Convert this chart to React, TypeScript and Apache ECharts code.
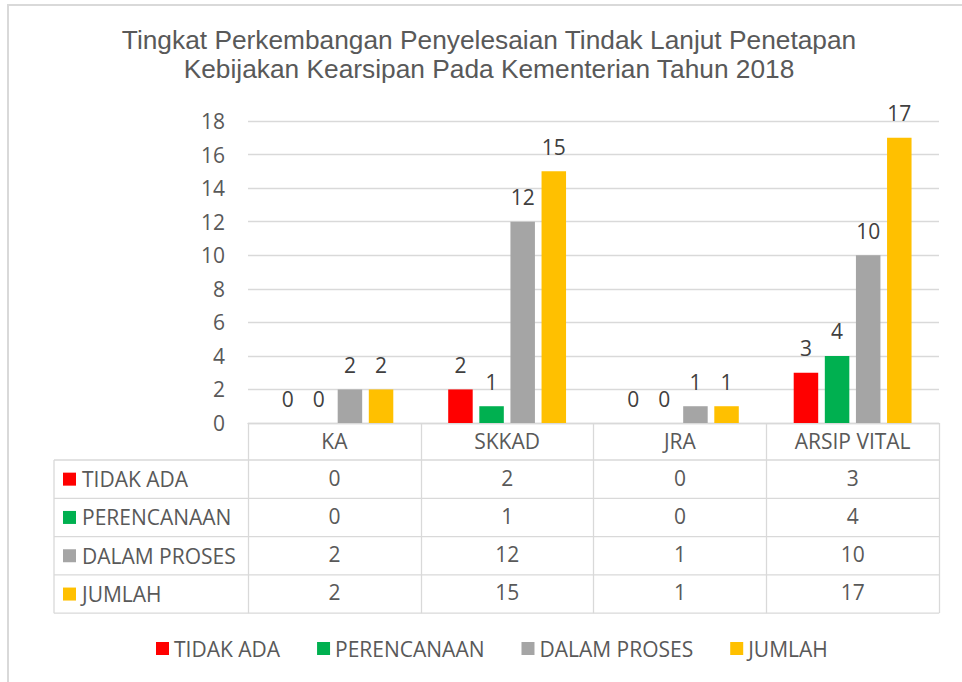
import React, { useEffect, useRef } from 'react';
import * as echarts from 'echarts';

// ---- data ----
const titleLines = [
  'Tingkat Perkembangan Penyelesaian Tindak Lanjut Penetapan',
  'Kebijakan Kearsipan Pada Kementerian Tahun 2018',
];
const categories = ['KA', 'SKKAD', 'JRA', 'ARSIP VITAL'];
const seriesNames = ['TIDAK ADA', 'PERENCANAAN', 'DALAM PROSES', 'JUMLAH'];
const tidakAda = [0, 2, 0, 3];
const perencanaan = [0, 1, 0, 4];
const dalamProses = [2, 12, 1, 10];
const jumlah = [2, 15, 1, 17];
const yMin = 0;
const yMax = 18;
const yInterval = 2;

// ---- styles / layout ----
const seriesColors = ['#FF0000', '#00B050', '#A5A5A5', '#FFC000'];
const W = 962;
const H = 682;
const gridLeft = 248;
const gridRight = 23;
const gridTop = 121;
const plotBottom = 423;
const headerH = 37;
const rowH = 38.3;
const tableLeft = 54;
const tableRight = W - gridRight;
const lineColor = '#D9D9D9';
const textColor = '#595959';
const labelColor = '#404040';
const font = 'Open Sans';
const fs = 21;
const labelMargin = 7;

export default function App() {
  const ref = useRef<HTMLDivElement>(null);

  useEffect(() => {
    document.body.style.margin = '0';
    if (!ref.current) return;
    const chart = echarts.init(ref.current, undefined, { renderer: 'svg' });
    const seriesData = [tidakAda, perencanaan, dalamProses, jumlah];

    const tableRows = seriesData.length;
    const tableBottom = plotBottom + headerH + tableRows * rowH;

    const graphic: any[] = [
      {
        type: 'rect',
        shape: { x: 8, y: 5, width: 1000, height: 1000 },
        style: { fill: 'none', stroke: lineColor, lineWidth: 2 },
        silent: true,
      },
      {
        type: 'line',
        shape: { x1: tableLeft, y1: plotBottom + headerH, x2: tableLeft, y2: tableBottom },
        style: { stroke: lineColor, lineWidth: 1.3 },
        silent: true,
      },
    ];
    for (let r = 0; r <= tableRows; r++) {
      const y = plotBottom + headerH + r * rowH;
      graphic.push({
        type: 'line',
        shape: { x1: tableLeft, y1: y, x2: tableRight, y2: y },
        style: { stroke: lineColor, lineWidth: 1.3 },
        silent: true,
      });
    }
    seriesNames.forEach((name, i) => {
      const cy = plotBottom + headerH + i * rowH + rowH / 2;
      graphic.push({
        type: 'rect',
        shape: { x: 63, y: cy - 6.5, width: 13, height: 13 },
        style: { fill: seriesColors[i] },
        silent: true,
      });
      graphic.push({
        type: 'text',
        x: 82,
        y: cy,
        style: {
          text: name,
          fill: textColor,
          font: `${fs}px "${font}"`,
          textAlign: 'left',
          textVerticalAlign: 'middle',
        },
        silent: true,
      });
    });

    const rowAxes = seriesData.map((vals, i) => ({
      type: 'category',
      data: categories,
      gridIndex: 0,
      position: 'bottom',
      offset: headerH + i * rowH,
      axisLine: { show: false },
      axisTick: { show: false },
      splitLine: { show: false },
      axisLabel: {
        interval: 0,
        margin: labelMargin,
        fontFamily: font,
        fontSize: fs,
        color: textColor,
        formatter: (_v: string, idx: number) => String(vals[idx]),
      },
    }));

    chart.setOption({
      animation: false,
      title: {
        text: titleLines.join('\n'),
        left: 489,
        top: 25,
        padding: 0,
        textAlign: 'center',
        textStyle: {
          fontFamily: 'Liberation Sans',
          fontSize: 26.3,
          fontWeight: 'normal',
          color: textColor,
          lineHeight: 29.5,
        },
      },
      legend: {
        data: seriesNames,
        bottom: 18,
        left: 151,
        icon: 'rect',
        itemWidth: 13,
        itemHeight: 13,
        itemGap: 37,
        textStyle: { fontFamily: font, fontSize: fs, color: textColor },
      },
      grid: {
        left: gridLeft,
        right: gridRight,
        top: gridTop,
        bottom: H - plotBottom,
        containLabel: false,
      },
      xAxis: [
        {
          type: 'category',
          data: categories,
          position: 'bottom',
          axisLine: { show: true, lineStyle: { color: lineColor, width: 1.3 } },
          axisTick: {
            show: true,
            length: headerH + tableRows * rowH,
            lineStyle: { color: lineColor, width: 1.3 },
          },
          axisLabel: {
            interval: 0,
            margin: labelMargin,
            fontFamily: font,
            fontSize: fs,
            color: textColor,
          },
        },
        ...rowAxes,
      ],
      yAxis: {
        type: 'value',
        min: yMin,
        max: yMax,
        interval: yInterval,
        axisLine: { show: false },
        axisTick: { show: false },
        splitLine: { lineStyle: { color: lineColor, width: 1.3 } },
        axisLabel: { margin: 23, fontFamily: font, fontSize: fs, color: textColor },
      },
      series: seriesData.map((vals, i) => ({
        name: seriesNames[i],
        type: 'bar',
        xAxisIndex: 0,
        data: vals,
        barWidth: 24.5,
        barGap: '27%',
        itemStyle: { color: seriesColors[i] },
        label: {
          show: true,
          position: 'top',
          distance: 14,
          fontFamily: font,
          fontSize: fs,
          color: labelColor,
        },
      })),
      graphic,
    });

    return () => chart.dispose();
  }, []);

  return <div ref={ref} style={{ width: W, height: H }} />;
}
